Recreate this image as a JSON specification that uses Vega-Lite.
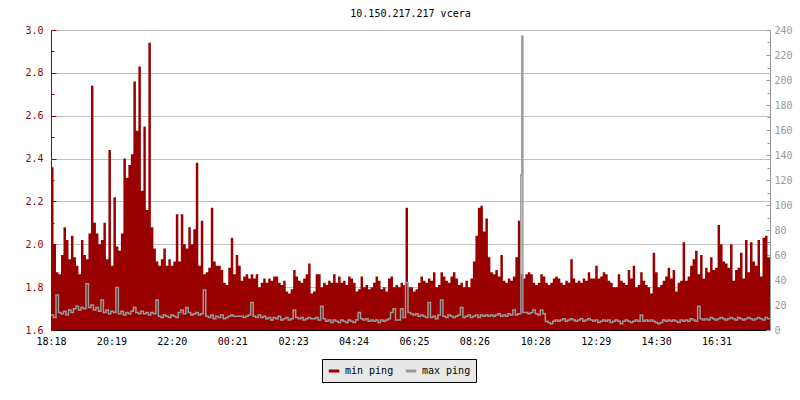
{
"$schema": "https://vega.github.io/schema/vega-lite/v6.json",
"width": 719, "height": 300,
"autosize": {"type": "none"},
"padding": {"left": 51, "top": 30, "right": 30, "bottom": 70},
"background": "white",
"title": {"text": "10.150.217.217 vcera", "font": "DejaVu Sans Mono", "fontSize": 10, "fontWeight": "normal", "color": "black", "anchor": "middle", "baseline": "bottom", "offset": -4},
"config": {"view": {"stroke": null}, "font": "DejaVu Sans Mono", "axis": {"labelFont": "DejaVu Sans Mono", "labelFontSize": 10}},
"data": {"values": [
{"m":0,"a":2.36,"b":12},{"m":5,"a":2.00,"b":10},{"m":10,"a":1.87,"b":28},{"m":15,"a":1.86,"b":14},{"m":20,"a":1.95,"b":13},{"m":25,"a":2.08,"b":15},{"m":30,"a":2.02,"b":12},{"m":35,"a":1.93,"b":16},{"m":40,"a":2.04,"b":14},{"m":45,"a":1.94,"b":17},{"m":50,"a":1.90,"b":19},{"m":55,"a":1.86,"b":16},{"m":60,"a":2.02,"b":18},{"m":65,"a":1.95,"b":17},{"m":70,"a":1.93,"b":37},{"m":75,"a":2.05,"b":18},{"m":80,"a":2.74,"b":20},{"m":85,"a":2.10,"b":16},{"m":90,"a":2.05,"b":18},{"m":95,"a":2.00,"b":15},{"m":100,"a":2.02,"b":24},{"m":105,"a":2.10,"b":14},{"m":110,"a":1.93,"b":16},{"m":115,"a":2.44,"b":13},{"m":120,"a":1.90,"b":15},{"m":125,"a":2.22,"b":14},{"m":130,"a":1.99,"b":34},{"m":135,"a":1.97,"b":13},{"m":140,"a":2.05,"b":15},{"m":145,"a":2.40,"b":12},{"m":150,"a":2.31,"b":14},{"m":155,"a":2.37,"b":13},{"m":160,"a":2.42,"b":15},{"m":165,"a":2.76,"b":18},{"m":170,"a":2.53,"b":14},{"m":175,"a":2.83,"b":13},{"m":180,"a":2.25,"b":15},{"m":185,"a":2.55,"b":13},{"m":190,"a":2.16,"b":14},{"m":195,"a":2.94,"b":12},{"m":200,"a":2.08,"b":14},{"m":205,"a":1.98,"b":13},{"m":210,"a":1.92,"b":24},{"m":215,"a":1.90,"b":11},{"m":220,"a":1.93,"b":10},{"m":225,"a":1.98,"b":12},{"m":230,"a":1.90,"b":11},{"m":235,"a":1.93,"b":10},{"m":240,"a":1.90,"b":12},{"m":245,"a":1.92,"b":11},{"m":250,"a":2.14,"b":10},{"m":255,"a":1.92,"b":14},{"m":260,"a":2.14,"b":16},{"m":265,"a":2.00,"b":13},{"m":270,"a":1.98,"b":18},{"m":275,"a":2.08,"b":14},{"m":280,"a":2.00,"b":12},{"m":285,"a":2.07,"b":13},{"m":290,"a":2.38,"b":14},{"m":295,"a":1.90,"b":12},{"m":300,"a":2.11,"b":13},{"m":305,"a":1.86,"b":32},{"m":310,"a":1.87,"b":11},{"m":315,"a":1.89,"b":10},{"m":320,"a":2.17,"b":12},{"m":325,"a":1.92,"b":9},{"m":330,"a":1.90,"b":11},{"m":335,"a":1.90,"b":10},{"m":340,"a":1.88,"b":12},{"m":345,"a":1.82,"b":9},{"m":350,"a":1.81,"b":10},{"m":355,"a":1.89,"b":11},
{"m":360,"a":2.03,"b":12},{"m":365,"a":1.86,"b":11},{"m":370,"a":1.95,"b":11},{"m":375,"a":1.90,"b":11},{"m":380,"a":1.83,"b":11},{"m":385,"a":1.85,"b":10},{"m":390,"a":1.86,"b":11},{"m":395,"a":1.84,"b":12},{"m":400,"a":1.86,"b":22},{"m":405,"a":1.84,"b":11},{"m":410,"a":1.86,"b":10},{"m":415,"a":1.80,"b":12},{"m":420,"a":1.82,"b":10},{"m":425,"a":1.84,"b":11},{"m":430,"a":1.82,"b":9},{"m":435,"a":1.84,"b":10},{"m":440,"a":1.83,"b":8},{"m":445,"a":1.85,"b":10},{"m":450,"a":1.85,"b":9},{"m":455,"a":1.82,"b":11},{"m":460,"a":1.81,"b":8},{"m":465,"a":1.83,"b":9},{"m":470,"a":1.78,"b":10},{"m":475,"a":1.77,"b":8},{"m":480,"a":1.79,"b":9},{"m":485,"a":1.88,"b":16},{"m":490,"a":1.85,"b":10},{"m":495,"a":1.83,"b":9},{"m":500,"a":1.82,"b":10},{"m":505,"a":1.84,"b":8},{"m":510,"a":1.86,"b":9},{"m":515,"a":1.91,"b":10},{"m":520,"a":1.77,"b":9},{"m":525,"a":1.78,"b":9},{"m":530,"a":1.86,"b":10},{"m":535,"a":1.86,"b":8},{"m":540,"a":1.80,"b":19},{"m":545,"a":1.82,"b":9},{"m":550,"a":1.81,"b":7},{"m":555,"a":1.83,"b":8},{"m":560,"a":1.82,"b":6},{"m":565,"a":1.86,"b":8},{"m":570,"a":1.82,"b":7},{"m":575,"a":1.85,"b":6},{"m":580,"a":1.82,"b":8},{"m":585,"a":1.83,"b":7},{"m":590,"a":1.81,"b":6},{"m":595,"a":1.85,"b":8},{"m":600,"a":1.84,"b":7},{"m":605,"a":1.82,"b":6},{"m":610,"a":1.78,"b":8},{"m":615,"a":1.79,"b":14},{"m":620,"a":1.85,"b":9},{"m":625,"a":1.80,"b":8},{"m":630,"a":1.81,"b":9},{"m":635,"a":1.79,"b":7},{"m":640,"a":1.80,"b":8},{"m":645,"a":1.82,"b":7},{"m":650,"a":1.85,"b":8},{"m":655,"a":1.83,"b":6},{"m":660,"a":1.79,"b":8},{"m":665,"a":1.80,"b":7},{"m":670,"a":1.78,"b":8},{"m":675,"a":1.84,"b":9},{"m":680,"a":1.85,"b":14},{"m":685,"a":1.80,"b":17},{"m":690,"a":1.81,"b":8},{"m":695,"a":1.80,"b":8},{"m":700,"a":1.82,"b":17},{"m":705,"a":1.81,"b":10},{"m":710,"a":2.17,"b":38},{"m":715,"a":1.80,"b":14},
{"m":720,"a":1.80,"b":13},{"m":725,"a":1.78,"b":12},{"m":730,"a":1.79,"b":13},{"m":735,"a":1.82,"b":11},{"m":740,"a":1.85,"b":12},{"m":745,"a":1.83,"b":11},{"m":750,"a":1.82,"b":10},{"m":755,"a":1.84,"b":22},{"m":760,"a":1.83,"b":10},{"m":765,"a":1.87,"b":11},{"m":770,"a":1.80,"b":9},{"m":775,"a":1.81,"b":12},{"m":780,"a":1.87,"b":24},{"m":785,"a":1.85,"b":11},{"m":790,"a":1.83,"b":10},{"m":795,"a":1.82,"b":12},{"m":800,"a":1.85,"b":11},{"m":805,"a":1.87,"b":10},{"m":810,"a":1.84,"b":11},{"m":815,"a":1.81,"b":12},{"m":820,"a":1.82,"b":18},{"m":825,"a":1.80,"b":10},{"m":830,"a":1.83,"b":11},{"m":835,"a":1.80,"b":12},{"m":840,"a":1.84,"b":10},{"m":845,"a":1.92,"b":11},{"m":850,"a":2.04,"b":12},{"m":855,"a":2.17,"b":10},{"m":860,"a":2.18,"b":12},{"m":865,"a":2.06,"b":11},{"m":870,"a":2.12,"b":12},{"m":875,"a":1.94,"b":11},{"m":880,"a":1.87,"b":12},{"m":885,"a":1.86,"b":11},{"m":890,"a":1.88,"b":12},{"m":895,"a":1.85,"b":13},{"m":900,"a":1.95,"b":11},{"m":905,"a":1.83,"b":12},{"m":910,"a":1.82,"b":11},{"m":915,"a":1.84,"b":13},{"m":920,"a":1.83,"b":12},{"m":925,"a":1.85,"b":16},{"m":930,"a":1.94,"b":12},{"m":935,"a":2.11,"b":13},{"m":940,"a":1.86,"b":13},{"m":941,"a":1.86,"b":124},{"m":943,"a":1.86,"b":235},{"m":945,"a":1.84,"b":14},{"m":950,"a":1.86,"b":14},{"m":955,"a":1.87,"b":13},{"m":960,"a":1.86,"b":14},{"m":965,"a":1.82,"b":16},{"m":970,"a":1.81,"b":13},{"m":975,"a":1.82,"b":12},{"m":980,"a":1.86,"b":16},{"m":985,"a":1.85,"b":13},{"m":990,"a":1.82,"b":7},{"m":995,"a":1.81,"b":6},{"m":1000,"a":1.82,"b":5},{"m":1005,"a":1.84,"b":7},{"m":1010,"a":1.85,"b":8},{"m":1015,"a":1.84,"b":7},{"m":1020,"a":1.82,"b":8},{"m":1025,"a":1.81,"b":9},{"m":1030,"a":1.83,"b":7},{"m":1035,"a":1.82,"b":8},{"m":1040,"a":1.93,"b":9},{"m":1045,"a":1.84,"b":8},{"m":1050,"a":1.82,"b":7},{"m":1055,"a":1.83,"b":8},{"m":1060,"a":1.82,"b":9},{"m":1065,"a":1.84,"b":7},{"m":1070,"a":1.83,"b":8},{"m":1075,"a":1.87,"b":9},
{"m":1080,"a":1.84,"b":8},{"m":1085,"a":1.84,"b":7},{"m":1090,"a":1.90,"b":8},{"m":1095,"a":1.84,"b":6},{"m":1100,"a":1.85,"b":7},{"m":1105,"a":1.87,"b":8},{"m":1110,"a":1.86,"b":7},{"m":1115,"a":1.83,"b":8},{"m":1120,"a":1.82,"b":6},{"m":1125,"a":1.80,"b":7},{"m":1130,"a":1.80,"b":8},{"m":1135,"a":1.86,"b":7},{"m":1140,"a":1.83,"b":5},{"m":1145,"a":1.82,"b":7},{"m":1150,"a":1.81,"b":8},{"m":1155,"a":1.88,"b":7},{"m":1160,"a":1.84,"b":6},{"m":1165,"a":1.90,"b":7},{"m":1170,"a":1.80,"b":8},{"m":1175,"a":1.81,"b":7},{"m":1180,"a":1.87,"b":12},{"m":1185,"a":1.83,"b":7},{"m":1190,"a":1.81,"b":8},{"m":1195,"a":1.80,"b":7},{"m":1200,"a":1.77,"b":8},{"m":1205,"a":1.96,"b":7},{"m":1210,"a":1.87,"b":6},{"m":1215,"a":1.80,"b":5},{"m":1220,"a":1.81,"b":6},{"m":1225,"a":1.83,"b":8},{"m":1230,"a":1.85,"b":7},{"m":1235,"a":1.89,"b":8},{"m":1240,"a":1.84,"b":7},{"m":1245,"a":1.88,"b":8},{"m":1250,"a":1.78,"b":7},{"m":1255,"a":1.82,"b":6},{"m":1260,"a":1.83,"b":8},{"m":1265,"a":2.01,"b":7},{"m":1270,"a":1.83,"b":8},{"m":1275,"a":1.85,"b":7},{"m":1280,"a":1.90,"b":9},{"m":1285,"a":1.93,"b":8},{"m":1290,"a":1.97,"b":7},{"m":1295,"a":1.86,"b":19},{"m":1300,"a":1.95,"b":9},{"m":1305,"a":1.84,"b":8},{"m":1310,"a":1.89,"b":9},{"m":1315,"a":1.87,"b":8},{"m":1320,"a":1.94,"b":10},{"m":1325,"a":1.88,"b":9},{"m":1330,"a":1.89,"b":8},{"m":1335,"a":2.09,"b":9},{"m":1340,"a":2.00,"b":10},{"m":1345,"a":1.92,"b":9},{"m":1350,"a":1.91,"b":8},{"m":1355,"a":1.89,"b":9},{"m":1360,"a":2.00,"b":10},{"m":1365,"a":1.83,"b":9},{"m":1370,"a":1.88,"b":8},{"m":1375,"a":1.89,"b":10},{"m":1380,"a":1.96,"b":9},{"m":1385,"a":1.84,"b":8},{"m":1390,"a":2.02,"b":9},{"m":1395,"a":1.87,"b":10},{"m":1400,"a":2.01,"b":9},{"m":1405,"a":1.92,"b":8},{"m":1410,"a":1.90,"b":9},{"m":1415,"a":2.02,"b":10},{"m":1420,"a":1.85,"b":9},{"m":1425,"a":2.03,"b":8},{"m":1430,"a":2.04,"b":10},{"m":1435,"a":1.94,"b":9},{"m":1440,"a":1.87,"b":9}
]},
"layer": [
{"mark": {"type": "area", "interpolate": "step-after", "color": "#990000"},
 "encoding": {
  "x": {"field": "m", "type": "quantitative", "scale": {"domain": [0, 1440], "nice": false},
   "axis": {"title": null, "values": [0,121,242,363,485,606,727,848,970,1091,1212,1333], "labelExpr": "timeFormat(datetime(2000,0,1,18,18+datum.value),'%H:%M')", "grid": false, "domainColor": "black", "tickColor": "black", "tickSize": -5, "labelColor": "black", "labelPadding": 11, "labelFlush": false, "labelOverlap": false}},
  "y": {"field": "a", "type": "quantitative", "scale": {"domain": [1.6, 3.0], "nice": false, "zero": false},
   "axis": {"title": null, "values": [1.6,1.7,1.8,1.9,2.0,2.1,2.2,2.3,2.4,2.5,2.6,2.7,2.8,2.9,3.0], "labelExpr": "round(datum.value*10)%2==0 ? format(datum.value,'.1f') : ''", "tickSize": {"condition": {"test": "round(datum.value*10)%2==0", "value": -5}, "value": -3}, "gridOpacity": {"condition": {"test": "round(datum.value*10)%2==0", "value": 1}, "value": 0}, "gridColor": "#c0c0c0", "domainColor": "#990000", "tickColor": "#990000", "labelColor": "#990000", "labelPadding": 13, "labelFlush": false, "labelOverlap": false}},
  "y2": {"datum": 1.6},
  "color": {"datum": "min ping", "type": "nominal", "scale": {"domain": ["min ping", "max ping"], "range": ["#990000", "#999999"]},
   "legend": {"orient": "none", "legendX": 271, "legendY": 329, "direction": "horizontal", "title": null, "fillColor": "#e8e8e8", "strokeColor": "black", "padding": 5, "symbolType": "stroke", "symbolStrokeWidth": 3, "symbolSize": 110, "labelFont": "DejaVu Sans Mono", "labelFontSize": 10, "labelColor": "black", "columnPadding": 5, "labelOffset": 4}}
 }},
{"mark": {"type": "line", "interpolate": "step-after", "strokeWidth": 1.5},
 "encoding": {
  "x": {"field": "m", "type": "quantitative"},
  "y": {"field": "b", "type": "quantitative", "scale": {"domain": [0, 240], "nice": false},
   "axis": {"title": null, "orient": "right", "grid": false, "values": [0,10,20,30,40,50,60,70,80,90,100,110,120,130,140,150,160,170,180,190,200,210,220,230,240], "labelExpr": "datum.value%20==0 ? datum.label : ''", "tickSize": {"condition": {"test": "datum.value%20==0", "value": -4}, "value": -3}, "domainColor": "#999999", "tickColor": "#999999", "labelColor": "#999999", "labelPadding": 8, "labelFlush": false, "labelOverlap": false}},
  "color": {"datum": "max ping", "type": "nominal"}
 }}
],
"resolve": {"scale": {"y": "independent"}}
}
